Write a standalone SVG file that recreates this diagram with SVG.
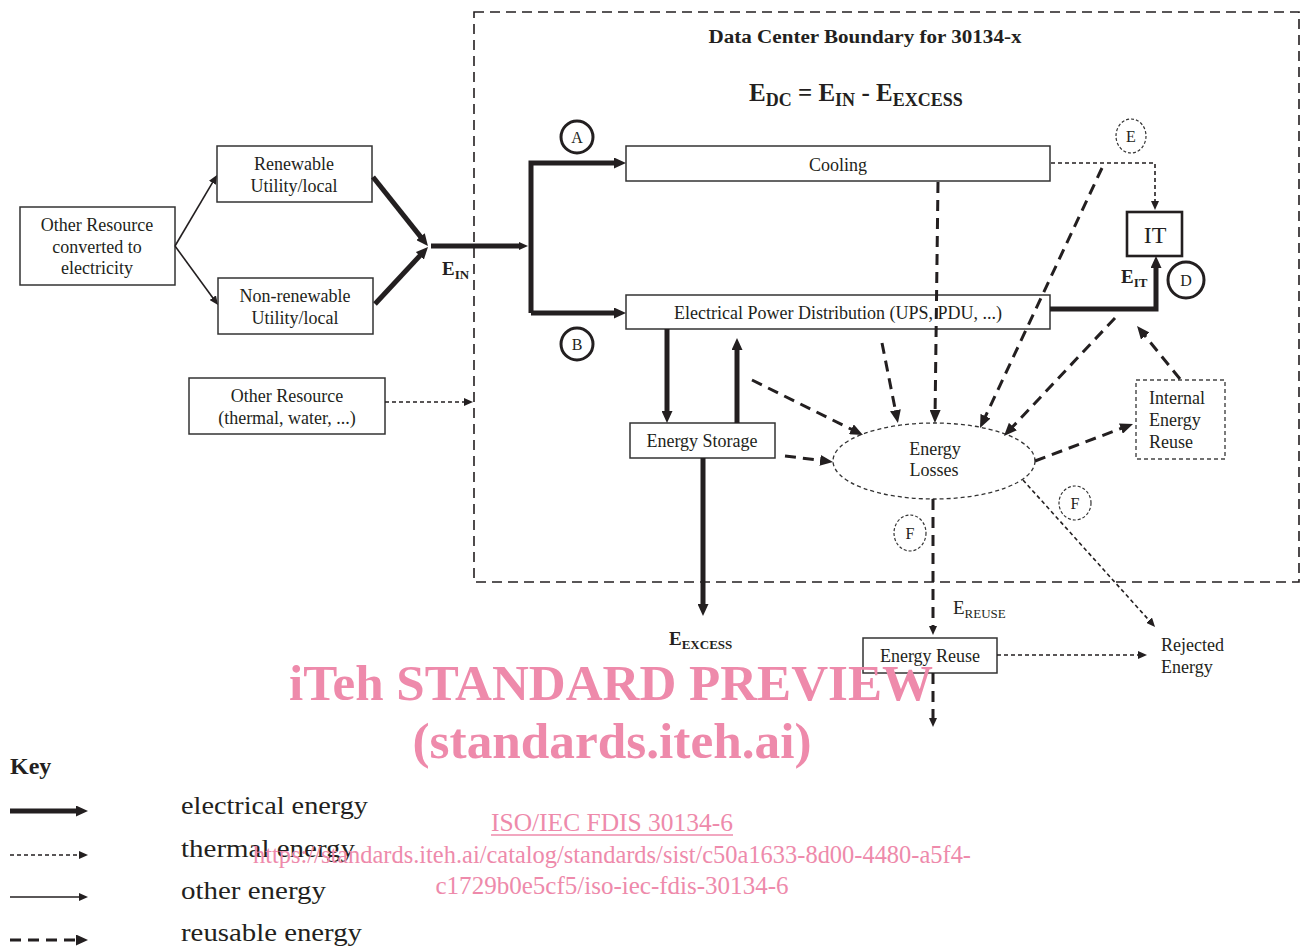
<svg xmlns="http://www.w3.org/2000/svg" width="1308" height="947" viewBox="0 0 1308 947">
<style>
text{font-family:"Liberation Serif","Times New Roman",serif;fill:#231f20}
.t{font-size:18px}
.c{text-anchor:middle;dominant-baseline:central}
.b{font-weight:bold}
.box{fill:#fff;stroke:#333;stroke-width:1.5}
.dbox{fill:#fff;stroke:#444;stroke-width:1.4;stroke-dasharray:4 3}
.el{fill:none;stroke:#231f20;stroke-width:5;stroke-linejoin:miter}
.th{fill:none;stroke:#231f20;stroke-width:1.6;stroke-dasharray:4 3}
.ot{fill:none;stroke:#231f20;stroke-width:1.6}
.re{fill:none;stroke:#231f20;stroke-width:3;stroke-dasharray:11 7}
.cir{fill:#fff;stroke:#231f20;stroke-width:3}
.dcir{fill:#fff;stroke:#333;stroke-width:1.2;stroke-dasharray:3 2}
.wm{fill:#ee8aab;font-family:"Liberation Serif","Times New Roman",serif}
</style>
<defs>
<marker id="aL" viewBox="0 0 12 11" refX="1" refY="5.5" markerWidth="12" markerHeight="11" markerUnits="userSpaceOnUse" orient="auto"><path d="M0,0L12,5.5L0,11z" fill="#231f20"/></marker>
<marker id="aR" viewBox="0 0 13 11" refX="1" refY="5.5" markerWidth="13" markerHeight="11" markerUnits="userSpaceOnUse" orient="auto"><path d="M0,0L13,5.5L0,11z" fill="#231f20"/></marker>
<marker id="aS" viewBox="0 0 9 8" refX="1" refY="4" markerWidth="9" markerHeight="8" markerUnits="userSpaceOnUse" orient="auto"><path d="M0,0L9,4L0,8z" fill="#231f20"/></marker>
</defs>

<g id="boundary">
<rect x="474" y="12" width="825" height="570" fill="none" stroke="#231f20" stroke-width="1.6" stroke-dasharray="10 6"/>
<text x="865" y="43" class="b" font-size="18" text-anchor="middle" textLength="313" lengthAdjust="spacingAndGlyphs">Data Center Boundary for 30134-x</text>
<text x="749" y="101" class="b" font-size="25">E<tspan font-size="18" dy="5">DC</tspan><tspan dy="-5"> = E</tspan><tspan font-size="18" dy="5">IN</tspan><tspan dy="-5"> - E</tspan><tspan font-size="18" dy="5">EXCESS</tspan></text>
</g>

<g id="n-other-elec"><rect class="box" x="20" y="207" width="155" height="78"/>
<text class="t c" x="97" y="225">Other Resource</text><text class="t c" x="97" y="247">converted to</text><text class="t c" x="97" y="268">electricity</text></g>
<g id="n-renewable"><rect class="box" x="217" y="146" width="155" height="56"/>
<text class="t c" x="294" y="164">Renewable</text><text class="t c" x="294" y="186">Utility/local</text></g>
<g id="n-nonrenewable"><rect class="box" x="218" y="278" width="155" height="56"/>
<text class="t c" x="295" y="296">Non-renewable</text><text class="t c" x="295" y="318">Utility/local</text></g>
<g id="n-other-thermal"><rect class="box" x="189" y="378" width="196" height="56"/>
<text class="t c" x="287" y="396">Other Resource</text><text class="t c" x="287" y="418">(thermal, water, ...)</text></g>
<g id="n-cooling"><rect class="box" x="626" y="146" width="424" height="35"/>
<text class="t c" x="838" y="165">Cooling</text></g>
<g id="n-epd"><rect class="box" x="626" y="295" width="424" height="34"/>
<text class="t c" x="838" y="313">Electrical Power Distribution (UPS, PDU, ...)</text></g>
<g id="n-it"><rect x="1127" y="212" width="55" height="44" fill="#fff" stroke="#231f20" stroke-width="2.6"/>
<text class="c" font-size="24" x="1155" y="235">IT</text></g>
<g id="n-storage"><rect class="box" x="630" y="423" width="145" height="35"/>
<text class="t c" x="702" y="441">Energy Storage</text></g>
<g id="n-losses"><ellipse cx="934" cy="461" rx="101" ry="38" fill="#fff" stroke="#333" stroke-width="1.3" stroke-dasharray="4 3"/>
<text class="t c" x="935" y="449">Energy</text><text class="t c" x="934" y="470">Losses</text></g>
<g id="n-internal"><rect class="dbox" x="1136" y="380" width="89" height="79"/>
<text class="t" x="1149" y="404">Internal</text><text class="t" x="1149" y="426">Energy</text><text class="t" x="1149" y="448">Reuse</text></g>
<g id="n-reuse"><rect class="box" x="863" y="638" width="134" height="35"/>
<text class="t c" x="930" y="656">Energy Reuse</text></g>
<g id="n-rejected"><text class="t" x="1161" y="651">Rejected</text><text class="t" x="1161" y="673">Energy</text></g>

<g id="connectors">
<path class="ot" d="M175,246L212.9,181.9" marker-end="url(#aS)"/>
<path class="ot" d="M175,246L213.3,298.5" marker-end="url(#aS)"/>
<path class="el" d="M373,177L421.1,237.4" marker-end="url(#aL)"/>
<path class="el" d="M375,304L420.5,255.1" marker-end="url(#aL)"/>
<path class="el" d="M431,246H520" marker-end="url(#aS)"/>
<path class="el" d="M531,313V163H615" marker-end="url(#aL)"/>
<path class="el" d="M531,313H615" marker-end="url(#aL)"/>
<path class="el" d="M1050,309H1156V267" marker-end="url(#aL)"/>
<path class="el" d="M667,329V412" marker-end="url(#aL)"/>
<path class="el" d="M737,423V349" marker-end="url(#aL)"/>
<path class="el" d="M703,458V605" marker-end="url(#aL)"/>
<path class="th" d="M1051,163H1155V202" marker-end="url(#aS)"/>
<path class="th" d="M385,402H465" marker-end="url(#aS)"/>
<path class="th" d="M997,655H1139" marker-end="url(#aS)"/>
<path class="th" d="M1023,480L1149.7,621" stroke-dasharray="6 2 2 2" marker-end="url(#aS)"/>
<path class="re" d="M752,380L852.2,429.7" marker-end="url(#aR)"/>
<path class="re" d="M785,456L821.1,460.5" marker-end="url(#aR)"/>
<path class="re" d="M882,343L895.6,411.2" marker-end="url(#aR)"/>
<path class="re" d="M938,182L935.1,411" marker-end="url(#aR)"/>
<path class="re" d="M1102,168L985.1,417.1" marker-end="url(#aR)"/>
<path class="re" d="M1115,318L1012.2,427.3" marker-end="url(#aR)"/>
<path class="re" d="M1035,461L1121.8,428.2" marker-end="url(#aR)"/>
<path class="re" d="M1180,379L1144.6,335.3" marker-end="url(#aR)"/>
<path class="re" d="M933,499V627" stroke-width="2.5" stroke-dasharray="10 6" marker-end="url(#aS)"/>
<path class="re" d="M933,673V719" stroke-width="2.5" stroke-dasharray="10 6" marker-end="url(#aS)"/>
</g>

<g id="markers-circles">
<circle class="cir" cx="577" cy="137" r="16"/><text class="c" font-size="16" x="577" y="137">A</text>
<circle class="cir" cx="577" cy="344" r="16"/><text class="c" font-size="16" x="577" y="344">B</text>
<circle class="cir" cx="1186" cy="280" r="18"/><text class="c" font-size="16" x="1186" y="280">D</text>
<ellipse class="dcir" cx="1131" cy="136" rx="15" ry="17"/><text class="c" font-size="16" x="1131" y="136">E</text>
<ellipse class="dcir" cx="910" cy="533" rx="16" ry="18"/><text class="c" font-size="16" x="910" y="533">F</text>
<ellipse class="dcir" cx="1075" cy="503" rx="16" ry="17"/><text class="c" font-size="16" x="1075" y="503">F</text>
</g>

<g id="labels">
<text x="442" y="275" class="b" font-size="19">E<tspan font-size="13" dy="4">IN</tspan></text>
<text x="1121" y="283" class="b" font-size="19">E<tspan font-size="13" dy="4">IT</tspan></text>
<text x="669" y="645" class="b" font-size="19">E<tspan font-size="13" dy="4">EXCESS</tspan></text>
<text x="953" y="614" font-size="19">E<tspan font-size="13" dy="4">REUSE</tspan></text>
</g>

<g id="key">
<text x="10" y="774" class="b" font-size="24">Key</text>
<path class="el" d="M10,811H77" marker-end="url(#aL)"/>
<path class="th" d="M10,855H80" stroke-dasharray="3 2" marker-end="url(#aS)"/>
<path class="ot" d="M10,897H80" marker-end="url(#aS)"/>
<path class="re" d="M10,940H77" stroke-dasharray="10 6" marker-end="url(#aL)"/>
<text x="181" y="814" font-size="26" textLength="187" lengthAdjust="spacingAndGlyphs">electrical energy</text>
<text x="181" y="857" font-size="26" textLength="174" lengthAdjust="spacingAndGlyphs">thermal energy</text>
<text x="181" y="899" font-size="26" textLength="145" lengthAdjust="spacingAndGlyphs">other energy</text>
<text x="181" y="941" font-size="26" textLength="181" lengthAdjust="spacingAndGlyphs">reusable energy</text>
</g>

<g id="watermark">
<text class="wm" x="611" y="700" font-size="51" font-weight="bold" text-anchor="middle" textLength="644" lengthAdjust="spacingAndGlyphs">iTeh STANDARD PREVIEW</text>
<text class="wm" x="612" y="758" font-size="51" font-weight="bold" text-anchor="middle" textLength="399" lengthAdjust="spacingAndGlyphs">(standards.iteh.ai)</text>
<text class="wm" x="612" y="831" font-size="26" text-anchor="middle" textLength="242" lengthAdjust="spacingAndGlyphs">ISO/IEC FDIS 30134-6</text>
<line x1="491" y1="835" x2="733" y2="835" stroke="#ee8aab" stroke-width="1.5"/>
<text class="wm" x="612" y="863" font-size="26" text-anchor="middle" textLength="718" lengthAdjust="spacingAndGlyphs">https://standards.iteh.ai/catalog/standards/sist/c50a1633-8d00-4480-a5f4-</text>
<text class="wm" x="612" y="894" font-size="26" text-anchor="middle" textLength="353" lengthAdjust="spacingAndGlyphs">c1729b0e5cf5/iso-iec-fdis-30134-6</text>
</g>
</svg>
